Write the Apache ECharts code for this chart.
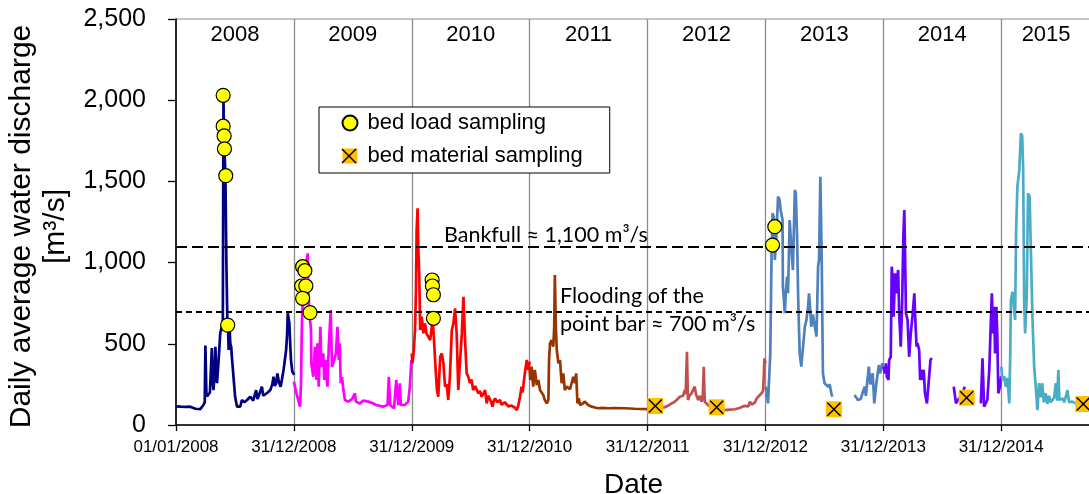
<!DOCTYPE html>
<html>
<head>
<meta charset="utf-8">
<title>Daily average water discharge 2008-2015</title>
<script src="https://cdn.jsdelivr.net/npm/echarts@6/dist/echarts.min.js"></script>
<style>
  html, body { margin: 0; padding: 0; background: #ffffff; }
  #chart { width: 1089px; height: 494px; }
</style>
</head>
<body>
<div id="chart"></div>
<script>
// x values are days counted from 01/01/2008; the axis ticks every 365 days.
const tickLabels = ['01/01/2008', '31/12/2008', '31/12/2009', '31/12/2010',
                    '31/12/2011', '31/12/2012', '31/12/2013', '31/12/2014'];
const yearLabels = ['2008', '2009', '2010', '2011', '2012', '2013', '2014', '2015'];
const lastDay = 2833;

// Daily average water discharge [m3/s], [day, value]; null marks missing records.
const q2008 = [[0,115],[15,113],[30,112],[44,113],[60,100],[75,98],[85,123],[89,140],[91,490],[94,200],[96,175],
  [105,200],[111,474],[114,260],[116,215],[119,300],[122,482],[125,300],[127,258],[132,400],[137,566],[142,605],
  [145,620],[147,2030],[148,1840],[149,1780],[150,1700],[153,1535],[156,1000],[159,640],[161,615],[163,462],
  [166,600],[168,505],[171,480],[173,420],[178,297],[183,174],[189,113],[199,113],[204,154],[212,140],[220,154],
  [230,174],[239,150],[248,215],[252,160],[255,174],[260,170],[266,236],[270,180],[276,174],[284,200],[292,215],
  [298,250],[302,297],[306,240],[310,258],[314,318],[319,260],[324,236],[328,280],[333,339],[337,400],[341,462],
  [344,560],[346,688],[349,650],[351,626],[354,480],[356,400],[360,330],[362,318],[366,308]];
const q2009 = [[365,267],[369,230],[373,195],[378,200],[384,113],[387,257],[390,647],[393,790],[398,900],[402,980],
  [405,1020],[408,1057],[409,852],[414,667],[418,585],[419,380],[425,297],[430,482],[435,277],[438,503],[442,236],
  [447,605],[450,359],[456,441],[459,277],[463,400],[469,236],[473,482],[479,708],[483,359],[490,400],[495,441],
  [500,605],[504,400],[507,503],[510,257],[514,297],[517,236],[523,154],[533,144],[545,160],[554,195],[557,144],
  [569,133],[580,150],[595,144],[608,135],[620,123],[641,113],[655,123],[659,297],[663,123],[675,103],[682,277],
  [688,123],[693,257],[696,123],[708,123],[719,144],[724,236],[729,400]];
const q2010 = [[730,441],[732,380],[736,450],[740,585],[743,831],[745,1200],[748,1334],[750,1100],[753,934],
  [756,585],[761,667],[766,564],[771,626],[776,560],[781,544],[787,523],[792,605],[795,650],[797,660],[800,482],
  [804,339],[808,215],[812,174],[818,420],[823,441],[828,380],[833,236],[838,250],[843,154],[848,297],[854,585],
  [859,626],[864,718],[869,564],[874,215],[879,380],[885,564],[890,790],[895,523],[900,318],[905,297],[910,257],
  [915,280],[920,215],[926,240],[931,236],[936,195],[941,210],[946,174],[951,190],[957,215],[962,133],[967,180],
  [972,174],[976,140],[980,113],[984,150],[988,164],[995,140],[1003,154],[1008,125],[1013,113],[1018,140],
  [1024,133],[1029,115],[1034,103],[1039,120],[1044,113],[1050,105],[1055,92],[1060,120],[1065,174],[1070,236],
  [1073,200],[1076,250],[1080,318],[1086,400],[1091,339],[1095,390]];
const q2011 = [[1095,339],[1097,277],[1101,359],[1106,236],[1111,339],[1117,246],[1122,277],[1127,215],[1132,200],
  [1137,185],[1142,154],[1148,133],[1153,154],[1155,400],[1158,503],[1163,523],[1168,482],[1171,600],[1173,924],
  [1176,600],[1179,462],[1184,380],[1189,400],[1194,257],[1199,318],[1204,215],[1210,236],[1214,236],[1220,220],
  [1225,215],[1230,297],[1235,257],[1239,318],[1241,318],[1243,133],[1247,164],[1251,123],[1258,130],[1266,144],
  [1276,123],[1287,113],[1297,108],[1307,103],[1320,105],[1338,103],[1360,104],[1390,103],[1420,100],[1460,98]];
const q2012 = [[1460,98],[1470,100],[1484,110],[1495,112],[1513,109],[1525,120],[1534,133],[1542,140],[1550,154],
  [1556,150],[1560,174],[1566,165],[1570,180],[1575,215],[1578,190],[1582,451],[1585,154],[1590,180],[1596,195],
  [1600,185],[1606,236],[1610,190],[1617,154],[1622,180],[1627,144],[1631,180],[1634,359],[1637,144],[1647,123],
  [1660,105],[1674,100],[1685,95],[1699,92],[1715,95],[1730,97],[1745,105],[1751,113],[1760,118],[1766,123],
  [1772,115],[1777,144],[1782,125],[1787,123],[1793,140],[1798,164],[1803,160],[1808,185],[1815,200],[1818,215],
  [1822,410],[1825,380]];
const q2013 = [[1826,236],[1829,200],[1833,133],[1838,123],[1840,441],[1844,1057],[1847,1304],[1851,1283],
  [1854,1016],[1859,1160],[1864,1406],[1869,1385],[1872,1324],[1878,1262],[1879,852],[1885,688],[1888,811],
  [1892,913],[1895,811],[1900,1262],[1905,1098],[1910,954],[1916,1447],[1919,1427],[1923,1160],[1926,811],
  [1931,441],[1936,359],[1941,349],[1947,605],[1952,647],[1957,728],[1960,811],[1964,700],[1967,605],[1972,680],
  [1978,605],[1983,544],[1988,975],[1991,1016],[1995,1529],[1999,1057],[2003,318],[2008,257],[2013,245],
  [2019,236],[2024,250],[2029,195],[2032,174],[2060,null],[2101,185],[2106,170],[2111,154],[2120,160],[2132,236],
  [2136,180],[2145,359],[2150,250],[2157,318],[2162,133],[2168,250],[2176,369],[2180,318],[2187,380],[2190,359]];
const q2014 = [[2190,359],[2195,318],[2198,380],[2201,297],[2206,277],[2208,400],[2213,420],[2216,975],[2219,893],
  [2222,667],[2226,934],[2229,811],[2232,900],[2236,954],[2239,688],[2244,482],[2248,728],[2252,1160],[2255,1324],
  [2257,1098],[2260,688],[2265,647],[2270,420],[2275,564],[2281,688],[2286,811],[2289,647],[2293,482],[2296,503],
  [2301,462],[2304,277],[2308,340],[2312,277],[2315,340],[2319,195],[2325,133],[2330,135],[2336,400],[2340,412],
  [2370,null],[2408,236],[2415,133],[2420,150],[2425,164],[2433,180],[2442,236],[2465,null],[2492,133],[2497,410],
  [2502,113],[2507,110],[2512,154],[2518,339],[2523,647],[2526,811],[2530,564],[2533,728],[2536,441],[2540,728],
  [2543,544],[2546,195],[2551,236],[2555,300]];
const q2015 = [[2555,359],[2559,277],[2564,300],[2569,236],[2574,290],[2580,133],[2583,441],[2585,770],[2590,821],
  [2595,811],[2598,647],[2601,1180],[2605,1467],[2611,1570],[2616,1796],[2620,1780],[2623,1570],[2626,770],
  [2629,564],[2634,790],[2638,1427],[2643,1406],[2647,1057],[2652,647],[2657,359],[2662,236],[2667,92],[2672,257],
  [2677,170],[2682,257],[2687,140],[2693,195],[2698,130],[2703,180],[2708,140],[2714,154],[2719,170],[2724,257],
  [2728,150],[2732,339],[2735,154],[2740,150],[2745,164],[2750,140],[2755,174],[2760,215],[2765,140],[2770,150],
  [2775,144],[2780,140],[2786,133],[2795,130],[2805,128],[2815,130],[2833,125]];

// Sampling campaigns, [day, discharge on that day].
const bedLoad = [[146,2030],[146,1840],[149,1780],[150,1700],[154,1535],[160,615],
  [392,975],[399,950],[389,856],[402,856],[392,780],[415,692],
  [793,893],[794,856],[797,802],[797,657],[1854,1221],[1847,1108]];
const bedMaterial = [[1484,117],[1674,109],[2037,97],[2448,168],[2809,129]];

const thresholds = { bankfull: 1100, pointBar: 700 };

const yearSeries = [q2008, q2009, q2010, q2011, q2012, q2013, q2014, q2015];
const yearColors = ['#000080', '#FF00FF', '#FF0000', '#993300', '#C0504D', '#4F81BD', '#6600FF', '#4BACC6'];

const AXIS_FONT = 'Liberation Sans, Arial, sans-serif';
const NOTE_FONT = 'Lato, Carlito, Calibri, sans-serif';

const chart = echarts.init(document.getElementById('chart'), null, { renderer: 'canvas' });

const lineSeries = yearSeries.map((data, i) => ({
  type: 'line',
  name: yearLabels[i],
  data: data,
  showSymbol: false,
  symbol: 'none',
  connectNulls: false,
  lineStyle: { color: yearColors[i], width: 2.7 },
  itemStyle: { color: yearColors[i] },
  silent: true,
  z: 2
}));

// dashed reference discharges
lineSeries[0].markLine = {
  silent: true,
  symbol: ['none', 'none'],
  label: { show: false },
  animation: false,
  data: [
    { yAxis: thresholds.bankfull, lineStyle: { color: '#000', width: 2.2, type: [11, 5] } },
    { yAxis: thresholds.pointBar, lineStyle: { color: '#000', width: 2.2, type: [6, 4] } }
  ]
};

// year captions centred on each year band
const yearCaption = {
  type: 'scatter',
  silent: true,
  symbolSize: 1,
  itemStyle: { color: 'rgba(0,0,0,0)', opacity: 1 },
  label: { show: true, position: 'inside', fontFamily: AXIS_FONT, fontSize: 22, color: '#000', opacity: 1 },
  data: yearLabels.map((t, i) => ({
    value: [(i * 365 + Math.min((i + 1) * 365, lastDay)) / 2, 2400],
    label: { formatter: t }
  })),
  z: 3
};

const option = {
  animation: false,
  backgroundColor: '#ffffff',
  grid: {
    left: 176, right: -2, top: 19, bottom: 69,
    show: true, borderColor: '#8c8c8c', borderWidth: 1, backgroundColor: 'transparent',
    outerBoundsMode: 'none'
  },
  xAxis: {
    type: 'value',
    min: 0, max: lastDay, interval: 365,
    name: 'Date',
    nameLocation: 'middle',
    nameGap: 46,
    nameTextStyle: { fontFamily: AXIS_FONT, fontSize: 28, color: '#000' },
    axisLine: { show: true, onZero: false, lineStyle: { color: '#000', width: 1.6 } },
    axisTick: { show: true, length: 6, lineStyle: { color: '#000', width: 1.3 } },
    axisLabel: {
      show: true, margin: 14, fontFamily: AXIS_FONT, fontSize: 17, color: '#000',
      showMaxLabel: false, hideOverlap: false,
      formatter: v => (v % 365 === 0 && v / 365 < tickLabels.length) ? tickLabels[v / 365] : ''
    },
    splitLine: { show: true, showMinLine: false, showMaxLine: false, lineStyle: { color: '#8c8c8c', width: 1.3 } }
  },
  yAxis: {
    type: 'value',
    min: 0, max: 2500, interval: 500,
    name: 'Daily average water discharge\n[m³/s]',
    nameLocation: 'middle',
    nameRotate: 90,
    nameGap: 101,
    nameTextStyle: { fontFamily: AXIS_FONT, fontSize: 30, lineHeight: 34, color: '#000', align: 'center',
                     padding: [0, 9, 0, 0] },
    axisLine: { show: true, lineStyle: { color: '#000', width: 1.6 } },
    axisTick: { show: true, length: 8, lineStyle: { color: '#000', width: 1.3 } },
    axisLabel: {
      margin: 30, fontFamily: AXIS_FONT, fontSize: 25, color: '#000',
      formatter: v => v.toLocaleString('en-US')
    },
    splitLine: { show: false }
  },
  legend: {
    show: true,
    orient: 'vertical',
    left: 319, top: 107,
    padding: [5, 27, 6, 22.5],
    itemGap: 11,
    itemWidth: 15, itemHeight: 15,
    backgroundColor: '#ffffff',
    borderColor: '#000', borderWidth: 1,
    selectedMode: false,
    textStyle: { fontFamily: AXIS_FONT, fontSize: 22, color: '#000', padding: [0, 0, 0, 5] },
    data: [
      { name: 'bed load sampling', icon: 'circle' },
      { name: 'bed material sampling', icon: 'rect', itemStyle: { color: '#FFC000', borderWidth: 0 } }
    ]
  },
  graphic: [
    // cross drawn over the legend square of "bed material sampling"
    { type: 'line', z: 100, shape: { x1: 342, y1: 149, x2: 356, y2: 163 }, style: { stroke: '#000', lineWidth: 1.5 } },
    { type: 'line', z: 100, shape: { x1: 356, y1: 149, x2: 342, y2: 163 }, style: { stroke: '#000', lineWidth: 1.5 } },
    { type: 'text', z: 100, x: 444, y: 235,
      style: { text: 'Bankfull ≈ 1,100 m³/s', font: '21.5px ' + NOTE_FONT, fill: '#000', verticalAlign: 'middle' } },
    { type: 'text', z: 100, x: 560, y: 296,
      style: { text: 'Flooding of the', font: '21.6px ' + NOTE_FONT, fill: '#000', verticalAlign: 'middle' } },
    { type: 'text', z: 100, x: 560, y: 324,
      style: { text: 'point bar ≈ 700 m³/s', font: '21.6px ' + NOTE_FONT, fill: '#000', verticalAlign: 'middle' } }
  ],
  series: [
    ...lineSeries,
    yearCaption,
    {
      type: 'scatter',
      name: 'bed load sampling',
      data: bedLoad,
      symbol: 'circle',
      symbolSize: 14,
      itemStyle: { color: '#FFFF00', borderColor: '#000', borderWidth: 1.2, opacity: 1 },
      z: 5
    },
    {
      type: 'scatter',
      name: 'bed material sampling',
      data: bedMaterial,
      symbol: 'rect',
      symbolSize: 16,
      itemStyle: { color: '#FFC000', opacity: 1 },
      z: 5
    },
    {
      type: 'scatter',
      name: 'bed material sampling',
      data: bedMaterial,
      symbol: 'path://M0,0L10,10M10,0L0,10',
      symbolSize: 13,
      itemStyle: { color: 'rgba(0,0,0,0)', borderColor: '#000', borderWidth: 1.5, opacity: 1 },
      z: 6
    }
  ]
};

chart.setOption(option);
</script>
</body>
</html>
